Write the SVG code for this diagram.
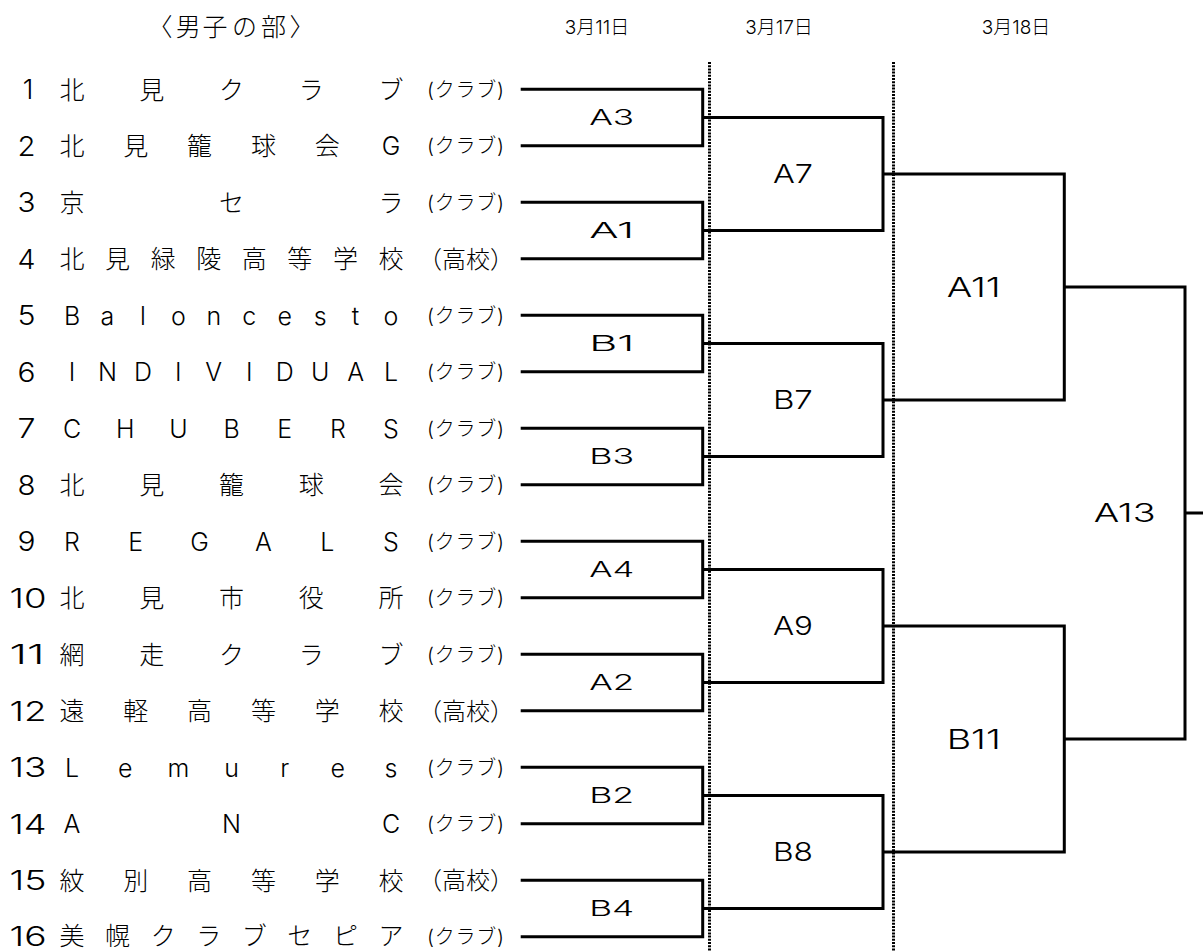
<svg xmlns="http://www.w3.org/2000/svg" width="1203" height="951" viewBox="0 0 1203 951">
<style>
text{font-family:'Inter','Noto Sans CJK JP',sans-serif;font-weight:300;fill:#000}
.title{font-size:25px}
.date{font-size:19px;text-anchor:middle}
.num{font-size:27px}
.n1{font-size:27px;text-anchor:middle}
.name{font-size:25px;text-anchor:middle}
.club{font-size:20px}
.hs{font-size:24px}
.r1{font-size:22px}
.r2{font-size:26px}
.r3{font-size:27px}
.r4{font-size:25.5px}
.br{fill:none;stroke:#000;stroke-width:3;stroke-linejoin:miter}
.dot{fill:none;stroke:#000;stroke-width:3;stroke-dasharray:2 1.2}
</style>
<rect width="1203" height="951" fill="#fff"/>
<g id="header">
<text class="title" x="160 188.3 215 244.5 273.5 302" y="35.5" text-anchor="middle">〈男子の部〉</text>
<text class="date" x="597" y="34">3月11日</text>
<text class="date" x="779" y="34">3月17日</text>
<text class="date" x="1016" y="34">3月18日</text>
</g>
<g id="dividers">
<path class="dot" d="M709.5 62V951M893.5 62V951"/>
</g>
<g id="team1"><text class="n1" x="28" y="99">1</text><text class="name" x="72 151.75 231.5 311.25 391" y="98.5">北見クラブ</text><text class="club" x="427" y="96.5" textLength="77" lengthAdjust="spacing">(クラブ)</text></g>
<g id="team2"><text class="num" x="17.5" y="155.5" textLength="18" lengthAdjust="spacingAndGlyphs">2</text><text class="name" x="72 135.8 199.6 263.4 327.2 391" y="155">北見籠球会G</text><text class="club" x="427" y="153" textLength="77" lengthAdjust="spacing">(クラブ)</text></g>
<g id="team3"><text class="num" x="17.5" y="212" textLength="18" lengthAdjust="spacingAndGlyphs">3</text><text class="name" x="72 231.5 391" y="211.5">京セラ</text><text class="club" x="427" y="209.5" textLength="77" lengthAdjust="spacing">(クラブ)</text></g>
<g id="team4"><text class="num" x="17.5" y="268.5" textLength="18" lengthAdjust="spacingAndGlyphs">4</text><text class="name" x="72 117.57 163.14 208.71 254.29 299.86 345.43 391" y="268">北見緑陵高等学校</text><text class="hs" x="418" y="267.8">（高校）</text></g>
<g id="team5"><text class="num" x="17.5" y="325" textLength="18" lengthAdjust="spacingAndGlyphs">5</text><text class="name" x="72 107.44 142.89 178.33 213.78 249.22 284.67 320.11 355.56 391" y="324.5">Baloncesto</text><text class="club" x="427" y="322.5" textLength="77" lengthAdjust="spacing">(クラブ)</text></g>
<g id="team6"><text class="num" x="17.5" y="381.5" textLength="18" lengthAdjust="spacingAndGlyphs">6</text><text class="name" x="72 107.44 142.89 178.33 213.78 249.22 284.67 320.11 355.56 391" y="381">INDIVIDUAL</text><text class="club" x="427" y="379" textLength="77" lengthAdjust="spacing">(クラブ)</text></g>
<g id="team7"><text class="num" x="17.5" y="438" textLength="18" lengthAdjust="spacingAndGlyphs">7</text><text class="name" x="72 125.17 178.33 231.5 284.67 337.83 391" y="437.5">CHUBERS</text><text class="club" x="427" y="435.5" textLength="77" lengthAdjust="spacing">(クラブ)</text></g>
<g id="team8"><text class="num" x="17.5" y="494.5" textLength="18" lengthAdjust="spacingAndGlyphs">8</text><text class="name" x="72 151.75 231.5 311.25 391" y="494">北見籠球会</text><text class="club" x="427" y="492" textLength="77" lengthAdjust="spacing">(クラブ)</text></g>
<g id="team9"><text class="num" x="17.5" y="551" textLength="18" lengthAdjust="spacingAndGlyphs">9</text><text class="name" x="72 135.8 199.6 263.4 327.2 391" y="550.5">REGALS</text><text class="club" x="427" y="548.5" textLength="77" lengthAdjust="spacing">(クラブ)</text></g>
<g id="team10"><text class="num" x="9.5" y="607.5" textLength="37" lengthAdjust="spacingAndGlyphs">10</text><text class="name" x="72 151.75 231.5 311.25 391" y="607">北見市役所</text><text class="club" x="427" y="605" textLength="77" lengthAdjust="spacing">(クラブ)</text></g>
<g id="team11"><text class="num" x="9.5" y="664" textLength="35" lengthAdjust="spacingAndGlyphs">11</text><text class="name" x="72 151.75 231.5 311.25 391" y="663.5">網走クラブ</text><text class="club" x="427" y="661.5" textLength="77" lengthAdjust="spacing">(クラブ)</text></g>
<g id="team12"><text class="num" x="9.5" y="720.5" textLength="37" lengthAdjust="spacingAndGlyphs">12</text><text class="name" x="72 135.8 199.6 263.4 327.2 391" y="720">遠軽高等学校</text><text class="hs" x="418" y="719.8">（高校）</text></g>
<g id="team13"><text class="num" x="9.5" y="777" textLength="37" lengthAdjust="spacingAndGlyphs">13</text><text class="name" x="72 125.17 178.33 231.5 284.67 337.83 391" y="776.5">Lemures</text><text class="club" x="427" y="774.5" textLength="77" lengthAdjust="spacing">(クラブ)</text></g>
<g id="team14"><text class="num" x="9.5" y="833.5" textLength="37" lengthAdjust="spacingAndGlyphs">14</text><text class="name" x="72 231.5 391" y="833">ANC</text><text class="club" x="427" y="831" textLength="77" lengthAdjust="spacing">(クラブ)</text></g>
<g id="team15"><text class="num" x="9.5" y="890" textLength="37" lengthAdjust="spacingAndGlyphs">15</text><text class="name" x="72 135.8 199.6 263.4 327.2 391" y="889.5">紋別高等学校</text><text class="hs" x="418" y="889.3">（高校）</text></g>
<g id="team16"><text class="num" x="9.5" y="945.5" textLength="37" lengthAdjust="spacingAndGlyphs">16</text><text class="name" x="72 117.57 163.14 208.71 254.29 299.86 345.43 391" y="945">美幌クラブセピア</text><text class="club" x="427" y="943.5" textLength="77" lengthAdjust="spacing">(クラブ)</text></g>
<g id="connectors">
<path class="br" d="M520.7 89.3H702.7V145.8H520.7M520.7 202.3H702.7V258.8H520.7M520.7 315.3H702.7V371.8H520.7M520.7 428.3H702.7V484.8H520.7M520.7 541.3H702.7V597.8H520.7M520.7 654.3H702.7V710.8H520.7M520.7 767.3H702.7V823.8H520.7M520.7 880.3H702.7V936.8H520.7"/>
<path class="br" d="M702.7 117.55H883V230.55H702.7M702.7 343.55H883V456.55H702.7M702.7 569.55H883V682.55H702.7M702.7 795.55H883V908.55H702.7"/>
<path class="br" d="M883 174.05H1064.3V400.05H883M883 626.05H1064.3V852.05H883"/>
<path class="br" d="M1064.3 287.05H1185V739.05H1064.3M1185 513.05H1203"/>
</g>
<g id="match-A3"><text class="r1" x="589.2" y="125.45" textLength="45" lengthAdjust="spacingAndGlyphs">A3</text></g>
<g id="match-A1"><text class="r1" x="589.2" y="238.45" textLength="45" lengthAdjust="spacingAndGlyphs">A1</text></g>
<g id="match-B1"><text class="r1" x="589.2" y="351.45" textLength="45" lengthAdjust="spacingAndGlyphs">B1</text></g>
<g id="match-B3"><text class="r1" x="589.2" y="464.45" textLength="45" lengthAdjust="spacingAndGlyphs">B3</text></g>
<g id="match-A4"><text class="r1" x="589.2" y="577.45" textLength="45" lengthAdjust="spacingAndGlyphs">A4</text></g>
<g id="match-A2"><text class="r1" x="589.2" y="690.45" textLength="45" lengthAdjust="spacingAndGlyphs">A2</text></g>
<g id="match-B2"><text class="r1" x="589.2" y="803.45" textLength="45" lengthAdjust="spacingAndGlyphs">B2</text></g>
<g id="match-B4"><text class="r1" x="589.2" y="916.45" textLength="45" lengthAdjust="spacingAndGlyphs">B4</text></g>
<g id="match-A7"><text class="r2" x="772.9" y="183.35" textLength="40" lengthAdjust="spacingAndGlyphs">A7</text></g>
<g id="match-B7"><text class="r2" x="772.9" y="409.35" textLength="40" lengthAdjust="spacingAndGlyphs">B7</text></g>
<g id="match-A9"><text class="r2" x="772.9" y="635.35" textLength="40" lengthAdjust="spacingAndGlyphs">A9</text></g>
<g id="match-B8"><text class="r2" x="772.9" y="861.35" textLength="40" lengthAdjust="spacingAndGlyphs">B8</text></g>
<g id="match-A11"><text class="r3" x="946.7" y="296.75" textLength="54" lengthAdjust="spacingAndGlyphs">A11</text></g>
<g id="match-B11"><text class="r3" x="946.7" y="748.75" textLength="54" lengthAdjust="spacingAndGlyphs">B11</text></g>
<g id="match-A13"><text class="r4" x="1093.7" y="522.15" textLength="62" lengthAdjust="spacingAndGlyphs">A13</text></g>
</svg>
